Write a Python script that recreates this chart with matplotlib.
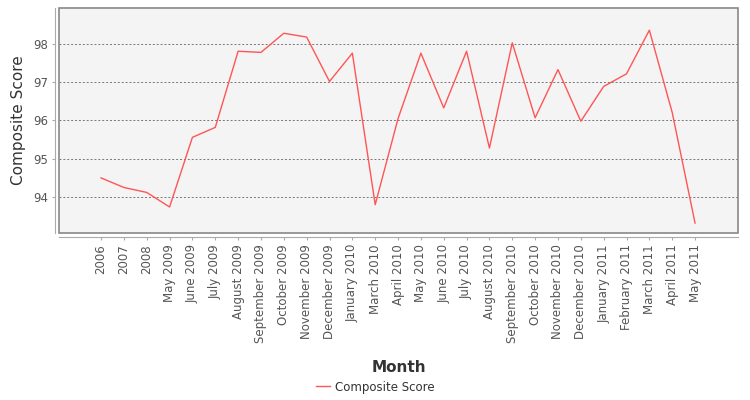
import matplotlib.pyplot as plt
from matplotlib.patches import Rectangle

# categories on the x axis
months = ['2006', '2007', '2008', 'May 2009', 'June 2009', 'July 2009',
          'August 2009', 'September 2009', 'October 2009', 'November 2009',
          'December 2009', 'January 2010', 'March 2010', 'April 2010',
          'May 2010', 'June 2010', 'July 2010', 'August 2010',
          'September 2010', 'October 2010', 'November 2010', 'December 2010',
          'January 2011', 'February 2011', 'March 2011', 'April 2011',
          'May 2011']
# composite score values
composite = [94.50, 94.25, 94.12, 93.74, 95.56, 95.82, 97.81, 97.78, 98.28,
             98.18, 97.02, 97.76, 93.80, 96.05, 97.76, 96.33, 97.81, 95.28,
             98.03, 96.07, 97.33, 95.98, 96.89, 97.22, 98.36, 96.21, 93.32]
y_ticks = [94, 95, 96, 97, 98]

plt.rcParams['font.family'] = ['DejaVu Sans']
fig = plt.figure(figsize=(7.5, 4), dpi=100)
ax = fig.add_axes([59 / 750, 1 - 233 / 400, 679 / 750, 225 / 400])
ax.set_facecolor('#f4f4f4')

x = list(range(len(months)))
line, = ax.plot(x, composite, color='#ff5555', lw=1.0, label='Composite Score')

ax.set_xlim(-1.84, len(months) - 1 + 1.88)
ax.set_ylim(93.06, 98.94)
ax.set_yticks(y_ticks)
ax.set_xticks(x)
ax.set_xticklabels(months)
ax.yaxis.grid(True, color='#777777', ls=(0, (2, 2)), lw=0.7)
ax.set_axisbelow(True)

for side in ['top', 'right']:
    ax.spines[side].set_visible(False)
for side in ['left', 'bottom']:
    ax.spines[side].set_position(('outward', 3))
    ax.spines[side].set_color('#aaaaaa')
    ax.spines[side].set_linewidth(0.8)
ax.add_patch(Rectangle((0, 0), 1, 1, transform=ax.transAxes, fill=False,
                       edgecolor='#888888', lw=1.2, clip_on=False, zorder=5))

ax.tick_params(axis='both', colors='#aaaaaa', length=2, width=0.8,
               labelcolor='#555555', labelsize=8.5, pad=3)
ax.tick_params(axis='x', labelrotation=90)

ax.set_ylabel('Composite Score', fontsize=11, color='#333333', labelpad=5)
ax.set_xlabel('Month', fontsize=11, fontweight='bold', color='#333333',
              labelpad=12)

fig.legend(handles=[line], loc='center', bbox_to_anchor=(0.5, 1 - 387 / 400),
           frameon=False, fontsize=8.5, handlelength=1.2, handletextpad=0.4,
           labelcolor='#333333')

fig.savefig('out.png', dpi=100)
